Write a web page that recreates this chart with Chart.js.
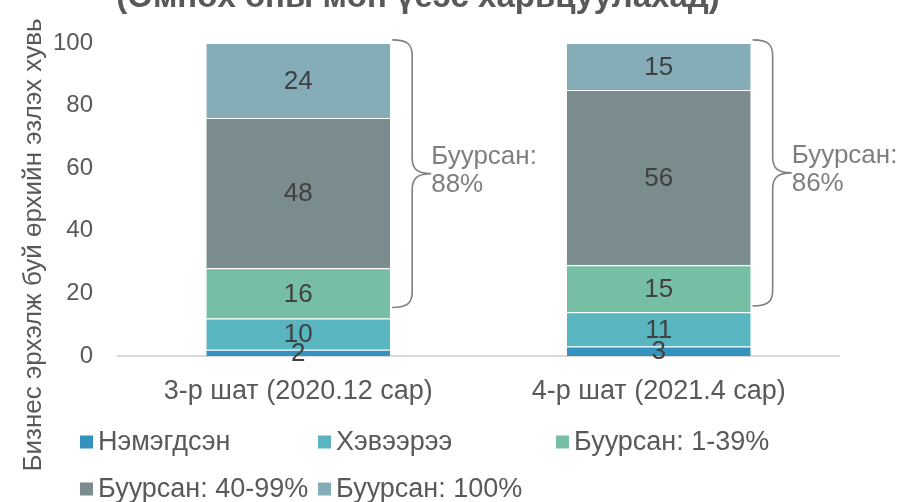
<!DOCTYPE html>
<html><head><meta charset="utf-8">
<script src="https://cdn.jsdelivr.net/npm/chart.js@4.4.0/dist/chart.umd.min.js"></script>
<style>html,body{margin:0;padding:0;background:#fff}</style>
</head><body><canvas id="c" width="910" height="502" style="width:910px;height:502px;display:block"></canvas>
<script>
const categories = ['3-р шат (2020.12 сар)', '4-р шат (2021.4 сар)'];
const seriesNames = ['Нэмэгдсэн', 'Хэвээрээ', 'Буурсан: 1-39%', 'Буурсан: 40-99%', 'Буурсан: 100%'];
const increased = [2, 3];
const unchanged = [10, 11];
const decreased1to39 = [16, 15];
const decreased40to99 = [48, 56];
const decreased100 = [24, 15];
const seriesColors = ['#3493be', '#59b6c1', '#76bfa5', '#7a8c8e', '#85adb7'];
const yTicks = [0, 20, 40, 60, 80, 100];
const braceLabel = ['Буурсан:', 'Буурсан:'];
const bracePct = ['88%', '86%'];
const braceFrom = [15.5, 16];
const braceTo = [101, 101];
const titleText = '(Өмнөх оны мөн үеэс харьцуулахад)';
const yTitle = 'Бизнес эрхэлж буй өрхийн эзлэх хувь';

const FONT = "'Liberation Sans', Arial, sans-serif";
const seriesValues = [increased, unchanged, decreased1to39, decreased40to99, decreased100];

const datasets = seriesNames.map((name, i) => ({
  label: name,
  data: seriesValues[i],
  backgroundColor: seriesColors[i],
  borderColor: 'rgba(255,255,255,0.55)',
  borderWidth: {top: 1, bottom: 0, left: 0, right: 0},
  borderSkipped: false,
  barPercentage: 0.51,
  categoryPercentage: 1.0
}));

const overlay = {
  id: 'overlay',
  afterDatasetsDraw(chart) {
    const ctx = chart.ctx;
    ctx.save();
    ctx.font = '26px ' + FONT;
    ctx.fillStyle = '#404040';
    ctx.textAlign = 'center';
    ctx.textBaseline = 'middle';
    chart.data.datasets.forEach((ds, i) => {
      const meta = chart.getDatasetMeta(i);
      meta.data.forEach((bar, j) => {
        const p = bar.getProps(['x', 'y', 'base'], true);
        ctx.fillText(String(ds.data[j]), p.x, (p.y + p.base) / 2 + 1);
      });
    });
    ctx.restore();
  },
  afterDraw(chart) {
    const ctx = chart.ctx;
    const ys = chart.scales.y;
    const lastMeta = chart.getDatasetMeta(chart.data.datasets.length - 1);
    ctx.save();
    // braces
    categories.forEach((c, j) => {
      const bar = lastMeta.data[j];
      const p = bar.getProps(['x', 'width'], true);
      const right = p.x + p.width / 2;
      const yTop = ys.getPixelForValue(braceTo[j]);
      const yBot = ys.getPixelForValue(braceFrom[j]);
      const ym = (yTop + yBot) / 2;
      const x0 = right + 2, x1 = right + 22, x2 = right + 41, r = 16;
      ctx.beginPath();
      ctx.moveTo(x0, yTop);
      ctx.bezierCurveTo(x1 - 4, yTop, x1, yTop + 5, x1, yTop + r);
      ctx.lineTo(x1, ym - r);
      ctx.bezierCurveTo(x1, ym - 4, x1 + 6, ym, x2, ym);
      ctx.bezierCurveTo(x1 + 6, ym, x1, ym + 4, x1, ym + r);
      ctx.lineTo(x1, yBot - r);
      ctx.bezierCurveTo(x1, yBot - 5, x1 - 4, yBot, x0, yBot);
      ctx.strokeStyle = '#7f7f7f';
      ctx.lineWidth = 1.6;
      ctx.stroke();
      ctx.font = '26px ' + FONT;
      ctx.fillStyle = '#7f7f7f';
      ctx.textAlign = 'left';
      ctx.textBaseline = 'middle';
      ctx.fillText(braceLabel[j], right + 41, ym - 17);
      ctx.fillText(bracePct[j], right + 41, ym + 11);
    });
    // title (cut off at top)
    ctx.font = 'bold 33px ' + FONT;
    ctx.fillStyle = '#595959';
    ctx.textAlign = 'center';
    ctx.textBaseline = 'alphabetic';
    ctx.fillText(titleText, 418, 7);
    // y axis title
    ctx.save();
    ctx.translate(41, 245);
    ctx.rotate(-Math.PI / 2);
    ctx.font = '26px ' + FONT;
    ctx.fillStyle = '#595959';
    ctx.textAlign = 'center';
    ctx.textBaseline = 'alphabetic';
    ctx.fillText(yTitle, 0, 0);
    ctx.restore();
    // legend
    ctx.font = '27px ' + FONT;
    const items = chart.data.datasets.map(d => ({label: d.label, color: d.backgroundColor}));
    const colW = 238;
    items.forEach((it, k) => {
      const col = k % 3, row = Math.floor(k / 3);
      const x = 80 + col * colW;
      const y = 442 + row * 47;
      ctx.fillStyle = it.color;
      ctx.fillRect(x, y - 6.5, 13, 13);
      ctx.fillStyle = '#595959';
      ctx.textAlign = 'left';
      ctx.textBaseline = 'middle';
      ctx.fillText(it.label, x + 18, y + 1);
    });
    ctx.restore();
  }
};

new Chart(document.getElementById('c'), {
  type: 'bar',
  data: {labels: categories, datasets},
  options: {
    responsive: false,
    animation: false,
    layout: {padding: {top: 43, right: 71, bottom: 0, left: 0}},
    plugins: {legend: {display: false}, title: {display: false}, tooltip: {enabled: false}},
    scales: {
      x: {
        stacked: true,
        grid: {display: false},
        border: {display: true, color: '#d9d9d9', width: 2},
        ticks: {color: '#595959', font: {size: 27, family: FONT}, padding: 11, maxRotation: 0},
        afterFit(s) { s.height = 146; }
      },
      y: {
        stacked: true,
        min: 0, max: 100,
        grid: {display: false, drawTicks: false},
        border: {display: false},
        afterBuildTicks(s) { s.ticks = yTicks.map(v => ({value: v})); },
        ticks: {color: '#595959', font: {size: 24, family: FONT}, padding: 25},
        afterFit(s) { s.width = 118; }
      }
    }
  },
  plugins: [overlay]
});
</script>
</body></html>
